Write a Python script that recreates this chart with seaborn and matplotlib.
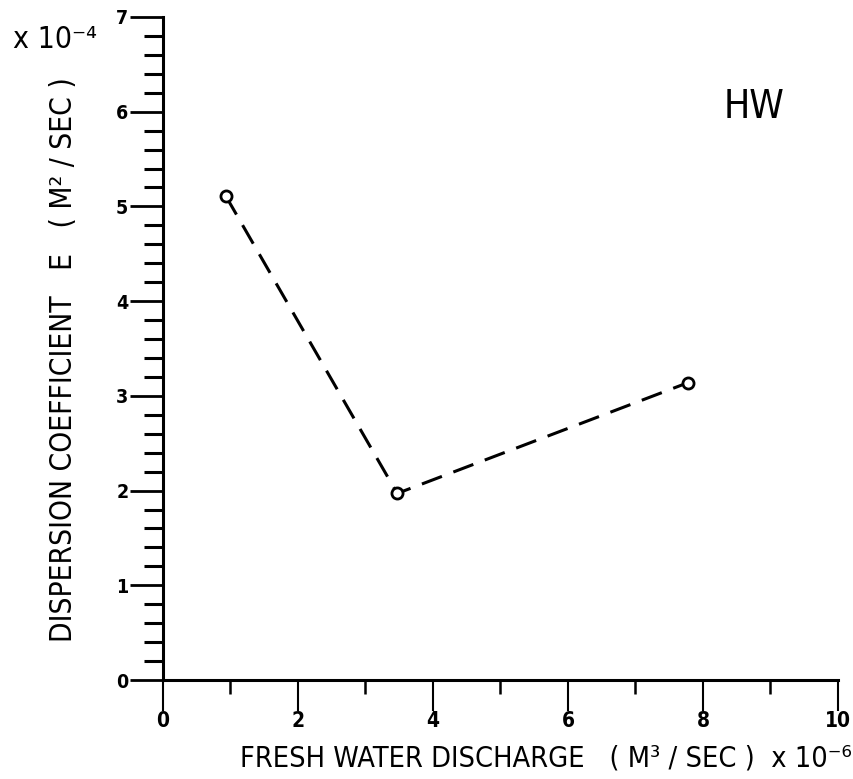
import matplotlib
matplotlib.use("Agg")
import matplotlib.pyplot as plt
import seaborn as sns
import pandas as pd
from matplotlib.ticker import MultipleLocator

# data
discharge = [0.93, 3.47, 7.78]
dispersion = [5.11, 1.97, 3.14]
x_ticks = [0, 2, 4, 6, 8, 10]
x_tick_labels = ["0", "2", "4", "6", "8", "10"]
y_ticks = [0, 1, 2, 3, 4, 5, 6, 7]
y_tick_labels = ["0", "1", "2", "3", "4", "5", "6", "7"]
panel_label = "HW"
x_label = "FRESH WATER DISCHARGE   ( M³ / SEC )  x 10⁻⁶"
y_label = "DISPERSION COEFFICIENT   E   ( M² / SEC )"
y_scale_label = "x 10⁻⁴"

sns.set_theme(style="ticks")
plt.rcParams["font.family"] = ["DejaVu Sans"]
plt.rcParams["font.stretch"] = "condensed"

df = pd.DataFrame({"q": discharge, "e": dispersion})

fig = plt.figure(figsize=(8.54, 7.79), dpi=100)
ax = fig.add_axes([163/854, 1 - 680/779, (838-163)/854, (680-17)/779])

sns.lineplot(data=df, x="q", y="e", ax=ax, color="black", linewidth=2.2,
             marker="o", markersize=8, markerfacecolor="white",
             markeredgecolor="black", markeredgewidth=2.0, sort=False)
for ln in ax.get_lines():
    ln.set_dashes([7, 4])
    ln.set_dash_capstyle("butt")

ax.set_xlim(0, 10)
ax.set_ylim(0, 7)
ax.set_xticks(x_ticks)
ax.set_xticklabels(x_tick_labels)
ax.set_yticks(y_ticks)
ax.set_yticklabels(y_tick_labels)
ax.xaxis.set_minor_locator(MultipleLocator(1))
ax.yaxis.set_minor_locator(MultipleLocator(0.2))

for side in ["top", "right"]:
    ax.spines[side].set_visible(False)
for side in ["left", "bottom"]:
    ax.spines[side].set_linewidth(2.2)
    ax.spines[side].set_color("black")

ax.tick_params(axis="y", which="major", direction="out", length=24, width=2, pad=1,
               labelsize=14, colors="black")
ax.tick_params(axis="y", which="minor", direction="out", length=14, width=2.2, colors="black")
ax.tick_params(axis="x", which="major", direction="out", length=22, width=1.5, pad=0,
               labelsize=15, colors="black")
ax.tick_params(axis="x", which="minor", direction="out", length=10, width=1.8, colors="black")
for t in ax.get_xticklabels() + ax.get_yticklabels():
    t.set_fontweight("bold")

ax.set_xlabel("")
ax.set_ylabel("")

tx = fig.text(240/854, 1 - 767/779, x_label, fontsize=22, ha="left",
              va="baseline", color="black")
ty = fig.text(64/854, 1 - 360/779, y_label, fontsize=22, rotation=90,
              ha="center", va="center", color="black")
ts = fig.text(13/854, 1 - 48/779, y_scale_label, fontsize=22, ha="left",
              va="baseline", color="black")
th = ax.text(8.76, 6.05, panel_label, fontsize=28, ha="center", va="center",
             color="black")

# fit text sizes to the reference extents (pixels)
fig.canvas.draw()
r = fig.canvas.get_renderer()
def fit(t, target, horiz=True):
    bb = t.get_window_extent(r)
    cur = bb.width if horiz else bb.height
    t.set_fontsize(t.get_fontsize() * target / cur)
fit(tx, 612)
fit(ty, 565, horiz=False)
fit(ts, 84)

fig.savefig("out.png", dpi=100)
